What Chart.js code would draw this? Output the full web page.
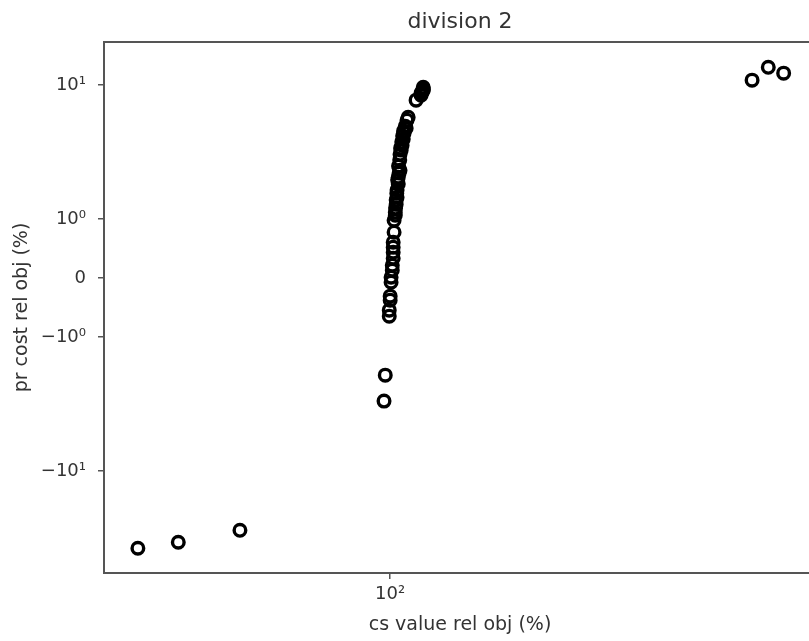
<!DOCTYPE html>
<html>
<head>
<meta charset="utf-8">
<script src="https://cdn.jsdelivr.net/npm/chart.js@4.4.0/dist/chart.umd.min.js"></script>
<style>
  html, body { margin: 0; padding: 0; background: #fff; overflow: hidden; }
  #wrap { position: absolute; left: 0; top: 0; width: 830px; height: 641px; }
</style>
</head>
<body>
<div id="wrap"><canvas id="c"></canvas></div>
<script>
// ---- data ----
const titleText = 'division 2';
const xLabel = 'cs value rel obj (%)';
const yLabel = 'pr cost rel obj (%)';

const xValues = [
  43.6, 49.8, 61.0,
  98.0, 98.4, 99.7, 99.7, 100.0, 100.0,
  100.3, 100.3, 100.7, 100.7, 101.0, 101.0, 101.0, 101.0,
  101.3, 101.3, 101.7, 101.7, 101.8, 102.0, 102.0, 102.2, 102.3, 102.3,
  102.5, 102.7, 102.7, 102.8, 103.0, 103.2, 103.3, 103.3, 103.5, 103.7,
  103.9, 104.0, 104.2, 104.4, 104.5, 104.7, 105.1, 105.4, 105.7, 106.1,
  108.9, 110.7, 110.7, 111.1, 111.5, 111.5, 111.5,
  329, 347, 365
];
const yValues = [
  -37.6, -33.9, -27.6,
  -3.0, -1.92, -0.644, -0.542, -0.373, -0.305,
  -0.068, 0.017, 0.136, 0.22, 0.339, 0.44, 0.525, 0.61,
  0.78, 0.983, 1.07, 1.128, 1.21, 1.295, 1.39, 1.56, 1.46, 1.65,
  1.96, 1.83, 2.06, 2.49, 2.21, 2.76, 2.32, 3.05, 3.39, 3.28,
  3.76, 3.57, 4.17, 3.96, 4.54, 4.39, 4.94, 4.78, 5.48, 5.77,
  7.73, 8.43, 8.73, 8.87, 9.18, 9.34, 9.66,
  10.9, 13.6, 12.3
];

const yTickValues = [-10, -1, 0, 1, 10];
const yTickLabels = ['\u221210\u00b9', '\u221210\u2070', '0', '10\u2070', '10\u00b9'];
const xTickValues = [100];
const xTickLabels = ['10\u00b2'];

const xMin = 39, xMax = 406;
const yMin = -57.5, yMax = 21;

// ---- symlog scale ----
const LINTHRESH = 1, LINSCALE = 0.44;
function symT(v) {
  const a = Math.abs(v);
  const t = a <= LINTHRESH ? a / LINTHRESH * LINSCALE : LINSCALE + Math.log10(a / LINTHRESH);
  return v < 0 ? -t : t;
}
function symInv(t) {
  const a = Math.abs(t);
  const v = a <= LINSCALE ? a / LINSCALE * LINTHRESH : LINTHRESH * Math.pow(10, a - LINSCALE);
  return t < 0 ? -v : v;
}
class SymlogScale extends Chart.Scale {
  determineDataLimits() {
    const mm = this.getMinMax(false);
    this.min = this.options.min !== undefined ? this.options.min : mm.min;
    this.max = this.options.max !== undefined ? this.options.max : mm.max;
  }
  buildTicks() {
    return yTickValues.map(v => ({ value: v }));
  }
  configure() {
    super.configure();
    this._tmin = symT(this.min);
    this._tmax = symT(this.max);
  }
  getPixelForValue(v) {
    return this.getPixelForDecimal((symT(v) - this._tmin) / (this._tmax - this._tmin));
  }
  getValueForPixel(p) {
    return symInv(this._tmin + this.getDecimalForPixel(p) * (this._tmax - this._tmin));
  }
  getLabelForValue(v) { return String(v); }
}
SymlogScale.id = 'symlog';
SymlogScale.defaults = {};
Chart.register(SymlogScale);

const spineColor = '#555';
const textColor = '#333';

const framePlugin = {
  id: 'frame',
  afterDatasetsDraw(chart) {
    const { ctx, chartArea: a } = chart;
    ctx.save();
    ctx.strokeStyle = spineColor;
    ctx.lineWidth = 2;
    ctx.beginPath();
    ctx.moveTo(a.left - 1, a.top);
    ctx.lineTo(a.right + 20, a.top);
    ctx.stroke();
    ctx.restore();
  }
};

const points = xValues.map((x, i) => ({ x: x, y: yValues[i] }));

new Chart(document.getElementById('c'), {
  type: 'scatter',
  data: {
    datasets: [{
      data: points,
      pointStyle: 'circle',
      pointRadius: 5.8,
      pointHoverRadius: 5.8,
      borderWidth: 3.4,
      pointBorderWidth: 3.4,
      pointBorderColor: '#000',
      pointBackgroundColor: 'rgba(255,255,255,0)',
      borderColor: '#000',
      backgroundColor: 'rgba(255,255,255,0)'
    }]
  },
  options: {
    responsive: true,
    maintainAspectRatio: false,
    animation: false,
    devicePixelRatio: 1,
    layout: { padding: { left: 0, right: 14, top: 0, bottom: 0 } },
    plugins: {
      legend: { display: false },
      tooltip: { enabled: false },
      title: {
        display: true,
        text: titleText,
        fullSize: false,
        color: textColor,
        font: { family: 'DejaVu Sans', size: 22, weight: 'normal', lineHeight: 1.2 },
        padding: { top: 9, bottom: 6.6 }
      }
    },
    scales: {
      x: {
        type: 'logarithmic',
        position: 'bottom',
        min: xMin,
        max: xMax,
        bounds: 'data',
        afterBuildTicks: s => { s.ticks = xTickValues.map(v => ({ value: v })); },
        afterFit: s => { s.height = 68; },
        grid: { drawOnChartArea: false, drawTicks: true, tickLength: 6, color: spineColor, lineWidth: 1.5 },
        border: { display: true, color: spineColor, width: 2 },
        ticks: {
          color: textColor,
          padding: 5,
          maxRotation: 0,
          autoSkip: false,
          font: { family: 'DejaVu Sans', size: 18 },
          callback: (v) => { const i = xTickValues.indexOf(v); return i >= 0 ? xTickLabels[i] : ''; }
        },
        title: {
          display: true,
          text: xLabel,
          color: textColor,
          font: { family: 'DejaVu Sans', size: 19 },
          padding: { top: 0, bottom: 4.6 }
        }
      },
      y: {
        type: 'symlog',
        position: 'left',
        min: yMin,
        max: yMax,
        afterFit: s => { s.width = 104; },
        grid: { drawOnChartArea: false, drawTicks: true, tickLength: 6, color: spineColor, lineWidth: 1.5 },
        border: { display: true, color: spineColor, width: 2 },
        ticks: {
          color: textColor,
          padding: 12,
          autoSkip: false,
          font: { family: 'DejaVu Sans', size: 18 },
          callback: (v) => { const i = yTickValues.indexOf(v); return i >= 0 ? yTickLabels[i] : ''; }
        },
        title: {
          display: true,
          text: yLabel,
          color: textColor,
          font: { family: 'DejaVu Sans', size: 19 },
          padding: { top: 10.6, bottom: 0 }
        }
      }
    }
  },
  plugins: [framePlugin]
});
</script>
</body>
</html>
